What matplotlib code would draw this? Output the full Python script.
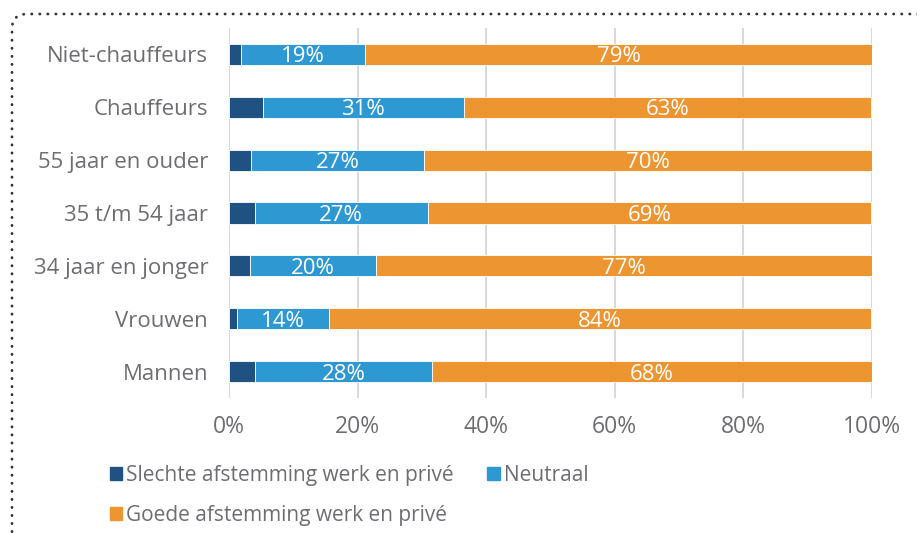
import matplotlib
matplotlib.use("Agg")
import matplotlib.pyplot as plt
from matplotlib.patches import FancyBboxPatch, Patch

DARK = "#1f5283"; BLUE = "#2e98d3"; ORANGE = "#ed9530"
TXT = "#6d6e71"; GRID = "#d9d9d9"

plt.rcParams.update({"font.family": ["Open Sans", "DejaVu Sans"], "font.size": 16})

# bottom-to-top order, as drawn
categories = ["Mannen", "Vrouwen", "34 jaar en jonger", "35 t/m 54 jaar",
              "55 jaar en ouder", "Chauffeurs", "Niet-chauffeurs"]
slecht = [4.0, 1.2, 3.2, 4.0, 3.4, 5.3, 1.8]
neutraal = [27.6, 14.3, 19.6, 26.9, 26.9, 31.2, 19.4]
goed = [68.4, 84.4, 77.3, 68.9, 69.7, 63.4, 78.8]
series_names = ["Slechte afstemming werk en privé", "Neutraal", "Goede afstemming werk en privé"]

fig = plt.figure(figsize=(9.17, 5.33), dpi=100)
ax = fig.add_axes([229 / 917, 1 - 398 / 533, 643 / 917, 370 / 533])

y = range(len(categories))
h = 0.4
ax.barh(y, slecht, h, color=DARK, edgecolor="white", lw=0.6, zorder=3)
ax.barh(y, neutraal, h, left=slecht, color=BLUE, edgecolor="white", lw=0.6, zorder=3)
left2 = [a + b for a, b in zip(slecht, neutraal)]
ax.barh(y, goed, h, left=left2, color=ORANGE, edgecolor="white", lw=0.6, zorder=3)

for i in y:
    ax.text(slecht[i] + neutraal[i] / 2, i, f"{round(neutraal[i])}%", ha="center",
            va="center_baseline", color="white", fontsize=16, zorder=4)
    ax.text(left2[i] + goed[i] / 2, i, f"{round(goed[i])}%", ha="center",
            va="center_baseline", color="white", fontsize=16, zorder=4)

ax.set_xlim(0, 100); ax.set_ylim(-0.5, 6.5)
ax.set_xticks([0, 20, 40, 60, 80, 100])
ax.set_xticklabels([f"{v}%" for v in [0, 20, 40, 60, 80, 100]])
ax.set_yticks(list(y)); ax.set_yticklabels(categories)
ax.tick_params(length=0, colors=TXT)
ax.tick_params(axis="x", pad=12, labelsize=16.5)
ax.tick_params(axis="y", pad=15, labelsize=16)
ax.grid(axis="x", color=GRID, lw=1.5, zorder=0)
for s in ax.spines.values():
    s.set_visible(False)

handles = [Patch(color=DARK), Patch(color=ORANGE), Patch(color=BLUE)]
labels = [series_names[0], series_names[2], series_names[1]]
leg = fig.legend(handles, labels, loc="upper left", bbox_to_anchor=(91 / 917, 1 - 446 / 533),
                 ncol=2, frameon=False, fontsize=15, handlelength=0.6, handleheight=0.6,
                 handletextpad=0.2, columnspacing=1.6, labelspacing=0.9, labelcolor=TXT)

# dotted rounded frame, running off the right and bottom edges
frame = FancyBboxPatch((0.12, -1.0), 10.0, 5.33 - 0.14 + 1.0,
                       boxstyle="round,pad=0,rounding_size=0.15",
                       transform=fig.dpi_scale_trans, fill=False, ec="#333333",
                       lw=2, ls=(0, (0.1, 2.8)), capstyle="round")
fig.patches.append(frame)

fig.savefig("out.png", dpi=100)
